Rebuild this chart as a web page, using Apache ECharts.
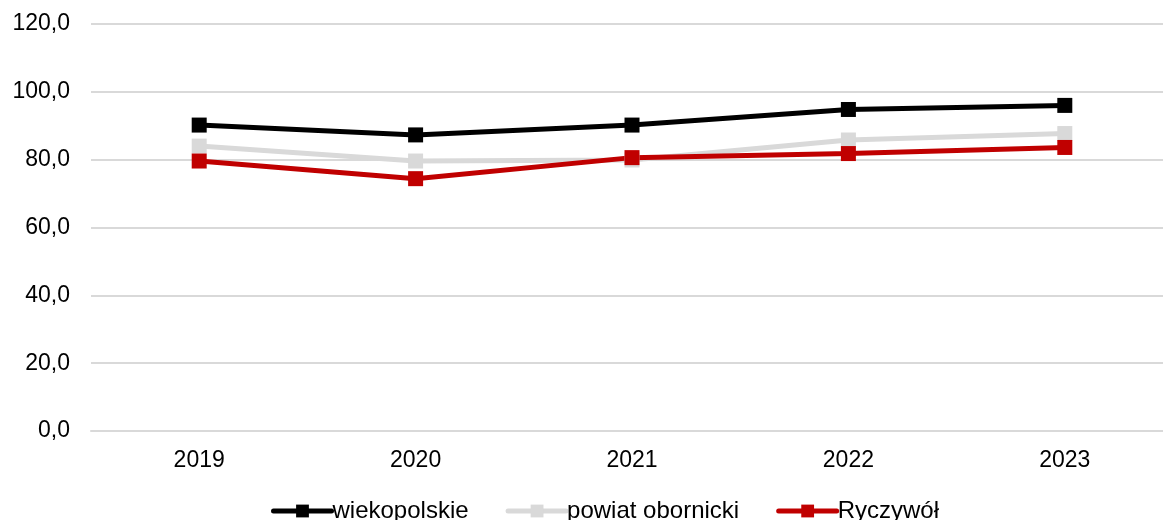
<!DOCTYPE html>
<html>
<head>
<meta charset="utf-8">
<script src="https://cdn.jsdelivr.net/npm/echarts@6/dist/echarts.min.js"></script>
<style>
    html, body { margin: 0; padding: 0; background: #fff; }
    #chart { width: 1163px; height: 520px; }
</style>
</head>
<body>
<div id="chart"></div>
<script>
// Données
const years = ['2019', '2020', '2021', '2022', '2023'];
const wielkopolskie = [90.2, 87.3, 90.2, 94.8, 96.0];
const powiatObornicki = [84.0, 79.6, 79.9, 85.8, 87.7];
const ryczywol = [79.6, 74.4, 80.6, 81.8, 83.6];
const seriesNames = ['wiekopolskie', 'powiat obornicki', 'Ryczywół'];
const colors = ['#000000', '#d9d9d9', '#c00000'];

const fontFamily = '"Liberation Sans", Arial, sans-serif';

function lineSeries(name, data, color) {
    return {
        name: name,
        type: 'line',
        data: data,
        symbol: 'rect',
        symbolSize: 15,
        lineStyle: { width: 5, color: color },
        itemStyle: { color: color },
        emphasis: { disabled: true },
        animation: false
    };
}

const chart = echarts.init(document.getElementById('chart'));
chart.setOption({
    animation: false,
    textStyle: { fontFamily: fontFamily },
    grid: { left: 91, top: 24, width: 1082, height: 407, outerBoundsMode: 'none' },
    legend: {
        data: seriesNames,
        bottom: -8,
        left: 266,
        itemWidth: 58,
        itemHeight: 16,
        itemGap: 37,
        lineStyle: { width: 5, cap: 'round' },
        textStyle: { fontSize: 24, color: '#000', fontFamily: fontFamily, padding: [0, 0, 0, -4] }
    },
    xAxis: {
        type: 'category',
        data: years,
        boundaryGap: true,
        axisLine: { lineStyle: { color: '#d9d9d9', width: 2 } },
        axisTick: { show: false },
        axisLabel: { color: '#000', fontSize: 23, margin: 18, fontFamily: fontFamily }
    },
    yAxis: {
        type: 'value',
        min: 0,
        max: 120,
        interval: 20,
        axisLine: { show: false },
        axisTick: { show: false },
        splitLine: { lineStyle: { color: '#d9d9d9', width: 2 } },
        axisLabel: {
            color: '#000',
            fontSize: 23,
            margin: 21,
            fontFamily: fontFamily,
            formatter: v => v.toFixed(1).replace('.', ',')
        }
    },
    series: [
        lineSeries(seriesNames[0], wielkopolskie, colors[0]),
        lineSeries(seriesNames[1], powiatObornicki, colors[1]),
        lineSeries(seriesNames[2], ryczywol, colors[2])
    ]
});
</script>
</body>
</html>
